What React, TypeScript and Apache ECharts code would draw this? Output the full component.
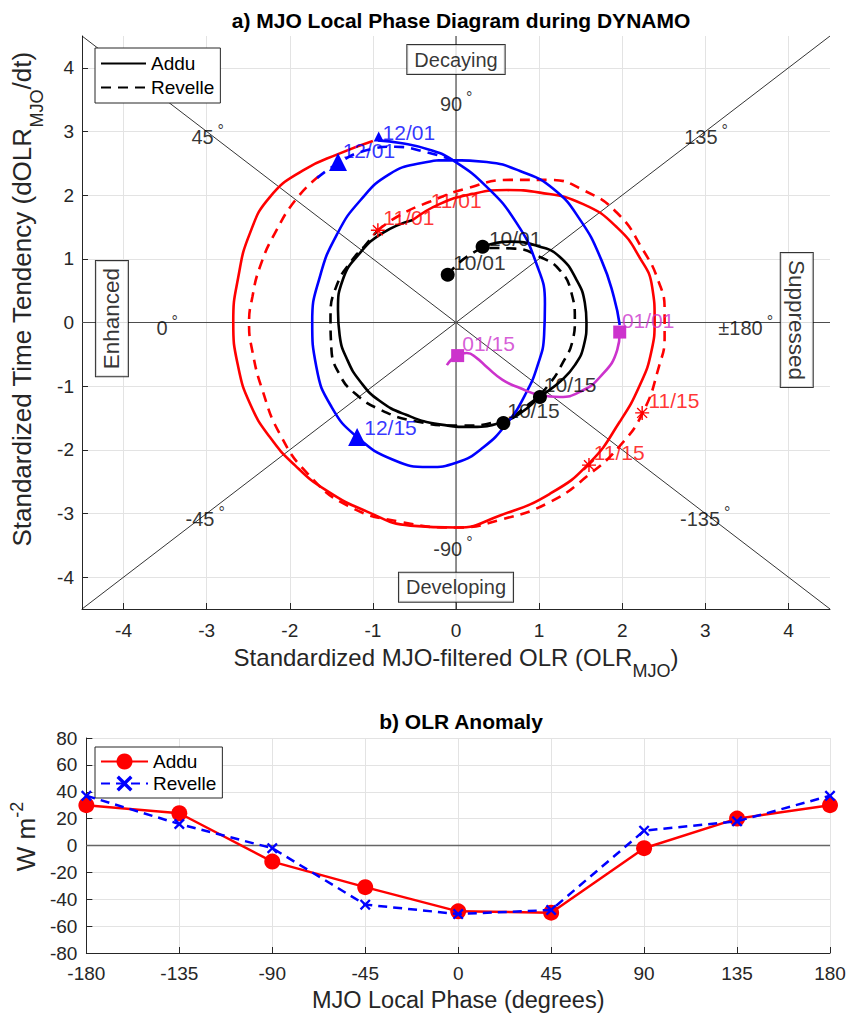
import React, { useEffect, useRef } from "react";
import * as echarts from "echarts";

const FONT = "'Liberation Sans', Arial, Helvetica, sans-serif";
const INK = "#262626";
const GRID = "#e3e3e3";
const RED = "#ff0000";
const BLUE = "#0000ff";
const MAGENTA = "#cc33cc";
const BLACK = "#000000";

// Limits of the phase-diagram axes
const PHASE_MIN = -4.5;
const PHASE_MAX = 4.5;

// Trajectories: [standardized OLR_MJO, standardized dOLR_MJO/dt]
const adduOct = [
  [0.32, 1.19], [0.65, 1.27], [1.01, 1.19], [1.25, 1.03], [1.45, 0.67], [1.55, 0.31], [1.57, 0],
  [1.54, -0.35], [1.43, -0.67], [1.25, -0.93], [1.01, -1.17], [0.79, -1.41], [0.57, -1.56], [0.2, -1.64],
  [-0.2, -1.6], [-0.6, -1.45], [-0.92, -1.23], [-1.15, -0.93], [-1.31, -0.58], [-1.4, -0.2],
  [-1.42, 0.2], [-1.36, 0.68], [-1.17, 1.07], [-0.89, 1.4], [-0.52, 1.61],
];
const revelleOct = [
  [-0.1, 0.75], [0.14, 1.04], [0.41, 1.17], [0.71, 1.16], [1.01, 1.03], [1.25, 0.82], [1.39, 0.46],
  [1.43, 0.04], [1.4, -0.3], [1.29, -0.62], [1.12, -0.97], [0.89, -1.27], [0.56, -1.53], [0.05, -1.62],
  [-0.49, -1.55], [-0.91, -1.37], [-1.21, -1.12], [-1.4, -0.82], [-1.5, -0.4], [-1.51, 0.09],
  [-1.43, 0.6], [-1.25, 0.98], [-1.1, 1.2], [-0.94, 1.45],
];
const adduNov = [
  [-0.52, 1.61], [-0.2, 1.86], [0.2, 2.02], [0.61, 2.08], [1.01, 2.04], [1.53, 1.86], [1.94, 1.49],
  [2.21, 1.02], [2.36, 0.56], [2.39, 0.04], [2.35, -0.46], [2.21, -0.99], [1.97, -1.56], [1.61, -2.2],
  [1.13, -2.69], [0.53, -3.03], [0.01, -3.22], [-0.55, -3.19], [-1.07, -2.97], [-1.57, -2.63],
  [-1.94, -2.24], [-2.24, -1.8], [-2.47, -1.3], [-2.62, -0.7], [-2.68, 0.01], [-2.62, 0.71],
  [-2.48, 1.4], [-2.24, 1.97], [-1.84, 2.39], [-1.39, 2.66], [-1.0, 2.85],
];
const revelleNov = [
  [-0.94, 1.45], [-0.67, 1.69], [-0.31, 1.9], [0.11, 2.1], [0.65, 2.24], [1.13, 2.24], [1.53, 2.08],
  [1.94, 1.72], [2.25, 1.14], [2.43, 0.67], [2.51, 0.2], [2.51, -0.23], [2.44, -0.7], [2.25, -1.41],
  [1.97, -1.94], [1.61, -2.38], [1.13, -2.82], [0.53, -3.1], [0.01, -3.22], [-0.67, -3.13],
  [-1.3, -2.88], [-1.78, -2.38], [-2.12, -1.75], [-2.33, -1.06], [-2.45, -0.45], [-2.49, -0.01],
  [-2.45, 0.4], [-2.36, 0.87], [-2.18, 1.4], [-1.91, 1.96], [-1.63, 2.32],
];
const adduDec = [
  [-0.94, 2.86], [-0.67, 2.82], [-0.31, 2.71], [-0.04, 2.55], [0.37, 2.13], [0.72, 1.58], [0.96, 0.95],
  [1.07, 0.3], [1.06, -0.2], [0.98, -0.68], [0.83, -1.14], [0.62, -1.57], [0.33, -1.96], [0.01, -2.2],
  [-0.33, -2.27], [-0.75, -2.16], [-1.19, -1.8], [-1.5, -1.32], [-1.68, -0.7], [-1.73, 0.01],
  [-1.64, 0.71], [-1.43, 1.39], [-1.15, 1.92], [-0.8, 2.33], [-0.43, 2.5], [-0.04, 2.55],
  [0.37, 2.52], [0.77, 2.38], [1.17, 2.1], [1.5, 1.6], [1.75, 0.98], [1.9, 0.4], [1.97, -0.04],
];
const revelleDec = [
  [-1.67, 2.27], [-1.42, 2.5], [-1.09, 2.7], [-0.73, 2.76], [-0.37, 2.68], [-0.04, 2.55],
];
const adduJan = [
  [1.97, -0.15], [1.94, -0.43], [1.73, -0.86], [1.49, -1.09], [1.25, -1.17], [1.01, -1.14],
  [0.77, -1.03], [0.56, -0.9], [0.37, -0.7], [0.25, -0.56], [0.13, -0.48], [0.02, -0.51], [-0.11, -0.67],
];

// Date markers on the trajectories
const octMarkers = [[-0.1, 0.75], [0.32, 1.19], [1.01, -1.17], [0.57, -1.58]];
const novMarkers = [[-0.94, 1.45], [2.24, -1.42], [1.6, -2.24]];
const decMarkers = [[-1.42, 2.52], [-1.19, -1.8]];
const decMarkersSmall = [[-0.93, 2.92]];
const janMarkers = [[1.97, -0.15], [0.02, -0.52]];

// Date annotations: [text, x, y] (text starts at x)
const octLabels: [string, number, number][] = [
  ["10/01", -0.04, 0.94], ["10/01", 0.39, 1.32], ["10/15", 1.05, -0.97], ["10/15", 0.61, -1.38],
];
const novLabels: [string, number, number][] = [
  ["11/01", -0.88, 1.65], ["11/01", -0.31, 1.92], ["11/15", 2.31, -1.23], ["11/15", 1.65, -2.04],
];
const decLabels: [string, number, number][] = [
  ["12/01", -1.37, 2.7], ["12/01", -0.89, 2.99], ["12/15", -1.11, -1.65],
];
const janLabels: [string, number, number][] = [
  ["01/01", 1.99, 0.03], ["01/15", 0.07, -0.33],
];

// Local phase angle annotations
const angleLabels: [string, number, number][] = [
  ["45", -3.19, 2.91], ["90", -0.2, 3.43], ["135", 2.74, 2.91], ["0", -3.61, -0.09],
  ["±180", 3.15, -0.09], ["-45", -3.26, -3.09], ["-90", -0.28, -3.56], ["-135", 2.69, -3.09],
];

// Stage names around the diagram
const stageNames = ["Decaying", "Developing", "Enhanced", "Suppressed"];
const stageAnchors = [[0, 4.13], [0, -4.16], [-4.14, 0.06], [4.1, 0.04]];
const stageRotation = [0, 0, 90, -90];

// b) OLR anomaly composite by local phase
const phaseDeg = [-180, -135, -90, -45, 0, 45, 90, 135, 180];
const adduOLR = [30, 24, -12, -31, -49, -50, -2, 20, 30];
const revelleOLR = [37, 16, -2, -44, -51, -48, 11, 18, 37];

const STAR =
  "path://M0,9 L20,9 L20,11 L0,11 Z M9,0 L11,0 L11,20 L9,20 Z M2.2,3.6 L3.6,2.2 L17.8,16.4 L16.4,17.8 Z M16.4,2.2 L17.8,3.6 L3.6,17.8 L2.2,16.4 Z";
const CROSS =
  "path://M1.5,0 L5,3.5 L8.5,0 L10,1.5 L6.5,5 L10,8.5 L8.5,10 L5,6.5 L1.5,10 L0,8.5 L3.5,5 L0,1.5 Z";

const DASH = [10, 7];

const curve = (name: string, data: number[][], color: string, dashed: boolean) => ({
  type: "line",
  name,
  data,
  symbol: "none",
  smooth: 0.5,
  silent: true,
  z: 3,
  lineStyle: { color, width: 2.6, type: dashed ? DASH : "solid" },
  itemStyle: { color },
});

const markerSeries = (data: number[][], symbol: string, size: number, color: string) => ({
  type: "scatter",
  data,
  symbol,
  symbolSize: size,
  silent: true,
  z: 4,
  itemStyle: { color, opacity: 1 },
});

const textSeries = (items: [string, number, number][], color: string) => ({
  type: "scatter",
  data: items.map(([t, x, y]) => ({ name: t, value: [x, y] })),
  symbolSize: 1,
  silent: true,
  z: 6,
  itemStyle: { color: "rgba(0,0,0,0)" },
  label: {
    show: true,
    position: "right",
    distance: 0,
    formatter: "{b}",
    color,
    fontSize: 21,
    fontFamily: FONT,
  },
});

const refLine = (data: number[][], color: string, width: number) => ({
  type: "line",
  data,
  symbol: "none",
  silent: true,
  z: 2,
  lineStyle: { color, width },
});

const phaseAxis = (extra: any) => ({
  type: "value",
  min: PHASE_MIN,
  max: PHASE_MAX,
  minInterval: 1,
  maxInterval: 1,
  axisLine: { onZero: false, lineStyle: { color: INK, width: 1 } },
  axisTick: { inside: true, length: 6, lineStyle: { color: INK } },
  splitLine: { show: true, showMinLine: false, showMaxLine: false, lineStyle: { color: GRID, width: 1 } },
  nameLocation: "middle",
  ...extra,
});

const phaseOption: any = {
  animation: false,
  backgroundColor: "#ffffff",
  title: {
    text: "a) MJO Local Phase Diagram during DYNAMO",
    left: 456,
    top: 5,
    textAlign: "center",
    textStyle: { fontFamily: FONT, fontSize: 21, fontWeight: "bold", color: BLACK },
  },
  legend: {
    data: ["Addu", "Revelle"],
    orient: "vertical",
    left: 95,
    top: 48,
    padding: [6, 6, 6, 5],
    itemGap: 5,
    itemWidth: 45,
    itemHeight: 18,
    backgroundColor: "#ffffff",
    borderColor: INK,
    borderWidth: 1,
    borderRadius: 0,
    selectedMode: false,
    itemStyle: { opacity: 0 },
    textStyle: { fontFamily: FONT, fontSize: 19, color: BLACK },
  },
  grid: { left: 82, top: 36, width: 748, height: 573 },
  xAxis: phaseAxis({
    axisLabel: {
      margin: 12,
      fontSize: 19,
      color: INK,
      fontFamily: FONT,
      showMinLabel: false,
      showMaxLabel: false,
      formatter: (v: number) => (Number.isInteger(v) ? String(v) : ""),
    },
    name: "Standardized MJO-filtered OLR (OLR{sub|MJO})",
    nameGap: 25,
    nameTextStyle: {
      fontFamily: FONT,
      fontSize: 24,
      color: INK,
      rich: { sub: { fontFamily: FONT, fontSize: 18, color: INK, padding: [28, 0, 0, 0] } },
    },
  }),
  yAxis: phaseAxis({
    axisLabel: {
      margin: 8,
      fontSize: 19,
      color: INK,
      fontFamily: FONT,
      showMinLabel: false,
      showMaxLabel: false,
      formatter: (v: number) => (Number.isInteger(v) ? String(v) : ""),
    },
    name: "Standardized Time Tendency (dOLR{sub|MJO}/dt)",
    nameGap: 29,
    nameTextStyle: {
      fontFamily: FONT,
      fontSize: 26,
      color: INK,
      padding: [0, 0, 0, 46],
      rich: { sub: { fontFamily: FONT, fontSize: 18, color: INK, padding: [30, 0, 0, 0] } },
    },
  }),
  series: [
    refLine([[PHASE_MIN, PHASE_MIN], [PHASE_MAX, PHASE_MAX]], BLACK, 0.8),
    refLine([[PHASE_MIN, PHASE_MAX], [PHASE_MAX, PHASE_MIN]], BLACK, 0.8),
    refLine([[PHASE_MIN, 0], [PHASE_MAX, 0]], "#4d4d4d", 1.2),
    refLine([[0, PHASE_MIN], [0, PHASE_MAX]], "#4d4d4d", 1.2),
    // legend keys (station line styles)
    { type: "line", name: "Addu", data: [], symbol: "none", lineStyle: { color: BLACK, width: 2.6 }, itemStyle: { color: BLACK } },
    { type: "line", name: "Revelle", data: [], symbol: "none", lineStyle: { color: BLACK, width: 2.6, type: DASH }, itemStyle: { color: BLACK } },
    curve("Addu Oct", adduOct, BLACK, false),
    curve("Revelle Oct", revelleOct, BLACK, true),
    curve("Addu Nov", adduNov, RED, false),
    curve("Revelle Nov", revelleNov, RED, true),
    curve("Addu Dec", adduDec, BLUE, false),
    curve("Revelle Dec", revelleDec, BLUE, true),
    curve("Addu Jan", adduJan, MAGENTA, false),
    markerSeries(octMarkers, "circle", 14, BLACK),
    markerSeries(novMarkers, STAR, 14, RED),
    markerSeries(decMarkers, "triangle", 18, BLUE),
    markerSeries(decMarkersSmall, "triangle", 10, BLUE),
    markerSeries(janMarkers, "rect", 13, MAGENTA),
    textSeries(octLabels, BLACK),
    textSeries(novLabels, RED),
    textSeries(decLabels, BLUE),
    textSeries(janLabels, MAGENTA),
    {
      type: "scatter",
      data: angleLabels.map(([t, x, y]) => ({ name: t, value: [x, y] })),
      symbolSize: 1,
      silent: true,
      z: 6,
      itemStyle: { color: "rgba(0,0,0,0)" },
      label: {
        show: true,
        position: "right",
        distance: 0,
        formatter: (p: any) => `${p.name}{d|°}`,
        color: BLACK,
        fontSize: 20,
        fontFamily: FONT,
        rich: { d: { fontSize: 16, fontFamily: FONT, color: BLACK, padding: [0, 0, 14, 4] } },
      },
    },
    {
      type: "scatter",
      data: stageNames.map((t, i) => ({
        name: t,
        value: stageAnchors[i],
        label: { rotate: stageRotation[i], fontSize: stageRotation[i] ? 22.5 : 20 },
      })),
      symbolSize: 1,
      silent: true,
      z: 7,
      itemStyle: { color: "rgba(0,0,0,0)" },
      label: {
        show: true,
        position: "inside",
        formatter: "{b}",
        color: BLACK,
        fontFamily: FONT,
        backgroundColor: "#ffffff",
        borderColor: BLACK,
        borderWidth: 1,
        padding: [5, 7, 4, 7],
      },
    },
  ],
};

const olrOption: any = {
  animation: false,
  backgroundColor: "#ffffff",
  title: {
    text: "b) OLR Anomaly",
    left: 456,
    top: 16,
    textAlign: "center",
    textStyle: { fontFamily: FONT, fontSize: 21, fontWeight: "bold", color: BLACK },
  },
  legend: {
    data: ["Addu", "Revelle"],
    orient: "vertical",
    left: 95,
    top: 57,
    padding: [5, 6, 5, 5],
    itemGap: 3,
    itemWidth: 47,
    itemHeight: 20,
    backgroundColor: "#ffffff",
    borderColor: INK,
    borderWidth: 1,
    borderRadius: 0,
    selectedMode: false,
    textStyle: { fontFamily: FONT, fontSize: 19, color: BLACK },
  },
  grid: { left: 82, top: 48, width: 748, height: 215 },
  xAxis: {
    type: "value",
    min: -180,
    max: 180,
    interval: 45,
    axisLine: { onZero: false, lineStyle: { color: INK } },
    axisTick: { inside: true, length: 6, lineStyle: { color: INK } },
    axisLabel: { margin: 11, fontSize: 19, color: INK, fontFamily: FONT },
    splitLine: { show: true, lineStyle: { color: GRID } },
    name: "MJO Local Phase (degrees)",
    nameLocation: "middle",
    nameGap: 35,
    nameTextStyle: { fontFamily: FONT, fontSize: 23.5, color: INK },
  },
  yAxis: {
    type: "value",
    min: -80,
    max: 80,
    interval: 20,
    axisLine: { onZero: false, lineStyle: { color: INK } },
    axisTick: { inside: true, length: 6, lineStyle: { color: INK } },
    axisLabel: { margin: 9, fontSize: 19, color: INK, fontFamily: FONT },
    splitLine: { show: true, lineStyle: { color: GRID } },
    name: "W m{sup|-2}",
    nameLocation: "middle",
    nameGap: 36,
    nameTextStyle: {
      fontFamily: FONT,
      fontSize: 26,
      color: INK,
      padding: [0, 0, 0, 18],
      rich: { sup: { fontFamily: FONT, fontSize: 18, color: INK, padding: [0, 0, 18, 0] } },
    },
  },
  series: [
    refLine([[phaseDeg[0], 0], [phaseDeg[phaseDeg.length - 1], 0]], "#666666", 1.5),
    {
      type: "line",
      name: "Addu",
      data: phaseDeg.map((p, i) => [p, adduOLR[i]]),
      symbol: "circle",
      symbolSize: 16,
      showSymbol: true,
      silent: true,
      z: 3,
      lineStyle: { color: RED, width: 2.5 },
      itemStyle: { color: RED },
    },
    {
      type: "line",
      name: "Revelle",
      data: phaseDeg.map((p, i) => [p, revelleOLR[i]]),
      symbol: CROSS,
      symbolSize: 11,
      showSymbol: true,
      silent: true,
      z: 4,
      lineStyle: { color: BLUE, width: 2.5, type: [9, 6] },
      itemStyle: { color: BLUE },
    },
  ],
};

function ChartPanel({ option, height }: { option: any; height: number }) {
  const ref = useRef<HTMLDivElement>(null);
  useEffect(() => {
    const chart = echarts.init(ref.current as HTMLDivElement, undefined, { renderer: "svg" });
    chart.setOption(option);
    return () => chart.dispose();
  }, [option]);
  return <div ref={ref} style={{ width: 852, height }} />;
}

export default function App() {
  return (
    <div style={{ position: "absolute", left: 0, top: 0, width: 852, height: 1019, background: "#ffffff" }}>
      <ChartPanel option={phaseOption} height={690} />
      <ChartPanel option={olrOption} height={329} />
    </div>
  );
}
